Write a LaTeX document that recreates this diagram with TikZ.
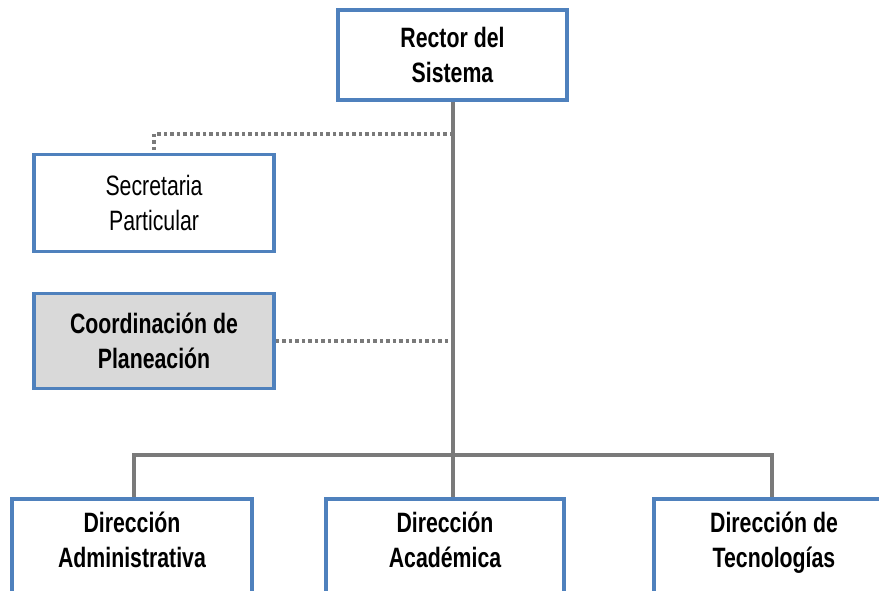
\documentclass[tikz,border=0pt]{standalone}
\usepackage{fontspec}
\setmainfont{Liberation Sans}[FakeStretch=0.76]
\definecolor{boxblue}{HTML}{4F81BD}
\definecolor{linegray}{HTML}{7A7A7A}
\definecolor{boxfill}{HTML}{D9D9D9}
\begin{document}
\begin{tikzpicture}[x=1pt,y=-1pt,
  orgbox/.style={draw=boxblue, line width=3.5pt, rectangle, inner sep=0pt, align=center,
    font=\fontsize{28}{35}\selectfont},
  boldbox/.style={orgbox, font=\fontsize{28}{35}\selectfont\bfseries},
  labeltext/.style={align=center, inner sep=0pt, anchor=north, font=\fontsize{28}{35}\selectfont\bfseries},
  solidline/.style={draw=linegray, line width=3.5pt},
  dotline/.style={draw=linegray, line width=3.5pt, dash pattern=on 3.5pt off 3pt}]
\useasboundingbox (0,0) rectangle (879,591);
\clip (0,0) rectangle (879,591);
\fill[white] (0,0) rectangle (879,591);

\node[boldbox, minimum width=229pt, minimum height=90pt] (rector) at (452.5,55) {Rector del\\Sistema};
\node[orgbox, minimum width=240pt, minimum height=97pt] (sec) at (154,203) {Secretaria\\Particular};
\node[boldbox, fill=boxfill, minimum width=240pt, minimum height=95pt] (coord) at (154,341) {Coordinación de\\Planeación};

\node[orgbox, minimum width=240pt, minimum height=140pt, anchor=north] (adm) at (132,497) {};
\node[orgbox, minimum width=238pt, minimum height=140pt, anchor=north] (acad) at (445,497) {};
\node[orgbox, minimum width=240pt, minimum height=140pt, anchor=north] (tec) at (774,497) {};
\node[labeltext] (admt) at ([yshift=-11pt]adm.north) {\strut Dirección\\\strut Administrativa};
\node[labeltext] (acadt) at ([yshift=-11pt]acad.north) {\strut Dirección\\\strut Académica};
\node[labeltext] (tect) at ([yshift=-11pt]tec.north) {\strut Dirección de\\\strut Tecnologías};

\coordinate (jsec) at (453,134);
\coordinate (jcoord) at (453,341);
\coordinate (jbar) at (453,455);
\coordinate (barl) at (134,455);
\coordinate (barr) at (772,455);

\draw[dotline] (jsec) -| (sec.north);
\draw[dotline] (coord.east) -- (jcoord);
\draw[solidline] (rector.south -| jsec) -- (acad.north -| jsec);
\draw[solidline] (adm.north -| barl) -- (barl) -- (barr) -- (tec.north -| barr);
\end{tikzpicture}
\end{document}
